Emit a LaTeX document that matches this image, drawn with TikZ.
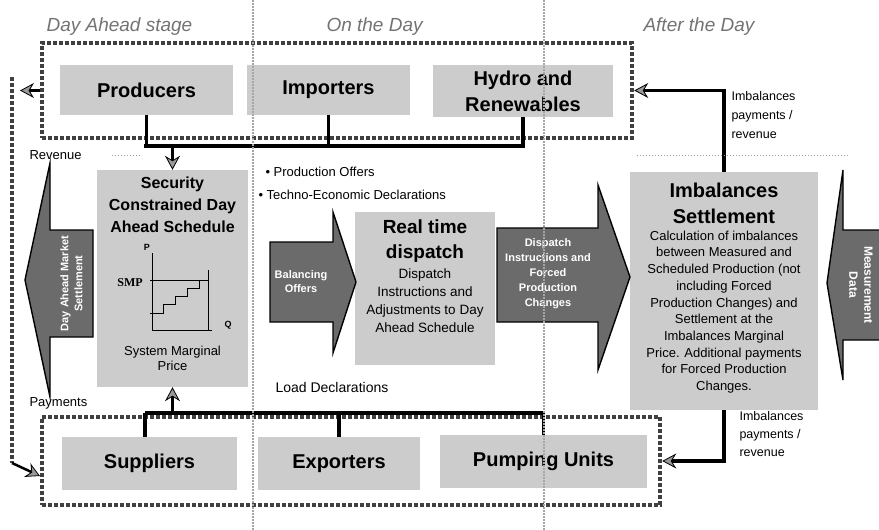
\documentclass[tikz,border=0pt]{standalone}
\usepackage{fontspec}
\setmainfont{Liberation Sans}
\newfontfamily\smpfont{Liberation Serif}
\usepackage{tikz}
\definecolor{boxgray}{rgb}{0.80,0.80,0.80}
\definecolor{arrowgray}{rgb}{0.42,0.42,0.42}
\definecolor{framegray}{rgb}{0.25,0.25,0.25}
\usetikzlibrary{calc,arrows.meta}

\begin{document}
\begin{tikzpicture}[x=1pt,y=-1pt,
    box/.style={fill=boxgray, inner sep=0pt, align=center},
    bigtxt/.style={font=\fontsize{20}{26}\selectfont\bfseries, align=center},
    smalltxt/.style={font=\fontsize{13}{17}\selectfont},
    sqframe/.style={draw=framegray, line width=4.5pt, dash pattern=on 4pt off 2pt, inner sep=0pt},
    bus/.style={draw=black, line width=3.5pt},
    gtip/.style={-{Stealth[length=14pt,width=15pt,fill=black!40,line width=0.8pt]}},
    blockarrow/.style={fill=arrowgray, draw=black, line width=1.4pt, line join=miter},
    arrtxt/.style={text=white, font=\fontsize{11}{14}\selectfont\bfseries, align=center},
    phase/.style={text=black!55, font=\fontsize{19}{22}\selectfont\itshape, anchor=west},
    sepline/.style={draw=black!35, line width=2pt, dash pattern=on 1.5pt off 1.5pt},
]
\useasboundingbox (0,0) rectangle (879,530);

% stages
\node[phase] (ph0) at (43,27) {Day Ahead stage};
\node[phase] (ph1) at (323,27) {On the Day};
\node[phase] (ph2) at (640,27) {After the Day};

% frames round the two groups
\node[sqframe, minimum width=590pt, minimum height=95pt] (tf) at (337,90.5) {};
\node[sqframe, minimum width=618pt, minimum height=88pt] (bf) at (351,461) {};

% production side
\node[box, bigtxt, minimum width=173pt, minimum height=50pt] (p0) at (146.5,90) {Producers};
\node[box, bigtxt, minimum width=163pt, minimum height=50pt] (p1) at (328.5,90) {Importers};
\node[box, bigtxt, minimum width=180pt, minimum height=52pt] (p2) at (523,91) {Hydro and\\Renewables};

% consumption side
\node[box, bigtxt, minimum width=175pt, minimum height=53pt] (s0) at (149.5,463.5) {Suppliers};
\node[box, bigtxt, minimum width=162pt, minimum height=53pt] (s1) at (339,463.5) {Exporters};
\node[box, bigtxt, minimum width=207pt, minimum height=53pt] (s2) at (543.5,461.5) {Pumping Units};

% day ahead schedule
\node[box, minimum width=151pt, minimum height=217pt] (das) at (172.5,278.5) {};
\node[font=\fontsize{16}{22}\selectfont\bfseries, align=center] (dast) at (172.5,205) {Security\\Constrained Day\\Ahead Schedule};
\draw[line width=1pt] (152,253) -- (152,330) -- (212,330);
\draw[line width=1pt] (150,280) -- (209,280);
\draw[line width=1pt] (208,270) -- (208,330);
\draw[line width=1pt] (150,313) -- (163,313) -- (163,304) -- (175,304) -- (175,296)
    -- (187,296) -- (187,288) -- (199,288) -- (199,280);
\node[font=\fontsize{9}{10}\selectfont\bfseries] (lp) at (147,247) {P};
\node[font=\fontsize{9}{10}\selectfont\bfseries] (lq) at (228,325) {Q};
\node[font=\smpfont\fontsize{12}{13}\selectfont\bfseries] (smp) at (130,283) {SMP};
\node[font=\fontsize{13}{15}\selectfont, align=center] (dasb) at (172.5,358) {System Marginal\\Price};

% real time dispatch
\node[box, minimum width=140pt, minimum height=153pt] (rt) at (425,288.5) {};
\node[font=\fontsize{19}{25}\selectfont\bfseries, align=center] (rtt) at (425,241) {Real time\\dispatch};
\node[font=\fontsize{13.5}{18}\selectfont, align=center] (rtb) at (425,300.5) {Dispatch\\Instructions and\\Adjustments to Day\\Ahead Schedule};

% imbalances settlement
\node[box, minimum width=188pt, minimum height=238pt] (im) at (724,291) {};
\node[bigtxt] (imt) at (724,203) {Imbalances\\Settlement};
\node[font=\fontsize{13}{16.7}\selectfont, align=center] (imb) at (724,312) {Calculation of imbalances\\between Measured and\\Scheduled Production (not\\including Forced\\Production Changes) and\\Settlement at the\\Imbalances Marginal\\Price. Additional payments\\for Forced Production\\Changes.};

% block arrows
\draw[blockarrow] (93,230) -- (50,230) -- (50,163) -- (25,280) -- (50,397) -- (50,337) -- (93,337) -- cycle;
\node[arrtxt, rotate=90] (lat) at (71.5,283.5) {Day Ahead Market\\Settlement};
\draw[blockarrow] (270,242) -- (333,242) -- (333,212) -- (356,282) -- (333,353) -- (333,322) -- (270,322) -- cycle;
\node[arrtxt] (mat) at (301,282) {Balancing\\Offers};
\draw[blockarrow] (497,228) -- (598,228) -- (598,185) -- (630,277) -- (598,370) -- (598,322) -- (497,322) -- cycle;
\node[arrtxt, font=\fontsize{11}{15}\selectfont\bfseries] (dat) at (548,274) {Dispatch\\Instructions and\\Forced\\Production\\Changes};
\draw[blockarrow] (880,230) -- (843,230) -- (843,170) -- (827,283) -- (843,380) -- (843,340) -- (880,340);
\node[arrtxt, font=\fontsize{12}{15}\selectfont\bfseries, rotate=-90] (rat) at (861,285) {Measurement\\Data};

% buses
\coordinate (tbl) at (144,146);
\coordinate (tbr) at (525,146);
\draw[bus] (p0.south) -- (p0.south |- tbl);
\draw[bus] (p1.south) -- (p1.south |- tbl);
\draw[bus] (p2.south) -- (p2.south |- tbl);
\draw[bus] (tbl) -- (tbr);
\draw[bus, gtip] (das.north |- tbl) -- (das.north);

\coordinate (bbl) at (145,413);
\coordinate (bbr) at (545,413);
\draw[bus] (s0.north -| bbl) -- (bbl);
\draw[bus] (s1.north) -- (s1.north |- bbl);
\draw[bus] (s2.north) -- (s2.north |- bbl);
\draw[bus] (bbl) -- (bbr);
\draw[bus, gtip] (das.south |- bbl) -- (das.south);

% imbalances payments
\draw[bus, gtip] (im.north) |- (tf.east);
\draw[bus, gtip] (im.south) |- (bf.east);
\node[smalltxt, align=left, anchor=north west, font=\fontsize{12.5}{19}\selectfont] (ipt) at (728,88) {Imbalances\\payments /\\revenue};
\node[smalltxt, align=left, anchor=north west, font=\fontsize{12.5}{18}\selectfont] (ipb) at (736,408) {Imbalances\\payments /\\revenue};

% money flow on the left
\coordinate (lct) at (12,77);
\coordinate (lcb) at (12,463);
\coordinate (lca) at (20,90.5);
\coordinate (lcz) at (40,476);
\draw[sqframe] (lct) -- (lcb);
\draw[line width=2.5pt, gtip] (tf.west) -- (lca);
\draw[line width=2.5pt, gtip] (lcb) -- (lcz);
\node[smalltxt, anchor=west] (rev) at (26,155) {Revenue};
\node[smalltxt, anchor=west] (pay) at (26,403) {Payments};

% declarations
\node[smalltxt, anchor=west] (po) at (262,172) {\textbullet\ Production Offers};
\node[smalltxt, anchor=west] (ted) at (255,195) {\textbullet\ Techno-Economic Declarations};
\node[font=\fontsize{14}{16}\selectfont, anchor=west] (ld) at (272,387) {Load Declarations};

% faint guides
\draw[black!40, line width=1pt, dotted] (112,155) -- (142,155);
\draw[black!40, line width=1pt, dotted] (637,155) -- (850,155);
\draw[sepline] (253,0) -- (253,530);
\draw[sepline] (544,0) -- (544,530);
\end{tikzpicture}
\end{document}
